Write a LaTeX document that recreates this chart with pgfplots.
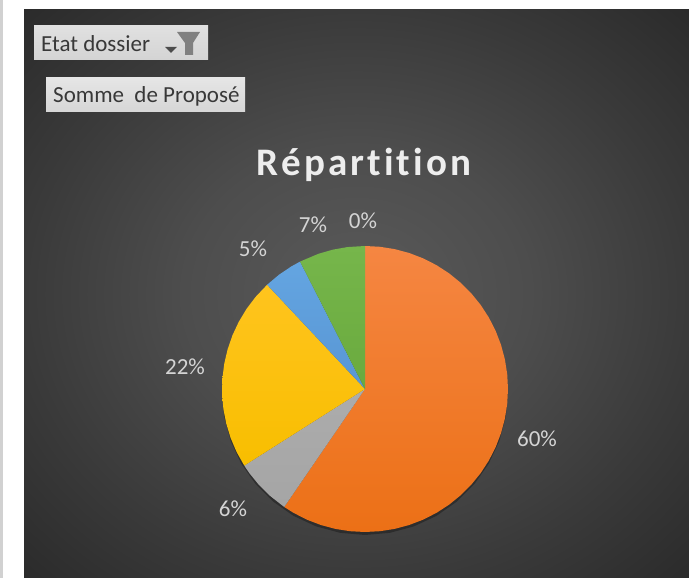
\documentclass[border=0pt]{standalone}
\usepackage{fontspec}
\setmainfont{Carlito}
\usepackage{pgfplots}
\pgfplotsset{compat=1.18}
\usepgfplotslibrary{polar}
\definecolor{lab}{HTML}{D4D4D4}
\definecolor{bg0}{HTML}{5A5A5A}
\definecolor{bg1}{HTML}{4D4D4D}
\definecolor{bg2}{HTML}{3A3A3A}
\definecolor{bg3}{HTML}{2A2A2A}
\pgfdeclareradialshading{vign}{\pgfpoint{0bp}{0bp}}{%
  color(0bp)=(bg0);color(13bp)=(bg1);color(25bp)=(bg2);color(36bp)=(bg3);color(100bp)=(bg3)}
\begin{document}
\begin{tikzpicture}[x=1pt,y=1pt]
\fill[white] (0,0) rectangle (689,578);
\fill[black!18] (0,0) rectangle (3,578);
\path[shading=vign] (24,0) rectangle (689,568);
% filter buttons
\shade[top color=black!12,bottom color=black!17] (34,518) rectangle (208,552);
\shade[top color=black!10,bottom color=black!16] (46,466) rectangle (245,500);
\node[anchor=west,inner sep=0pt,text=black!78,font=\fontsize{23}{26}\selectfont] at (41,534) {Etat dossier};
\node[anchor=west,inner sep=0pt,text=black!78,font=\fontsize{23}{26}\selectfont] at (53,482) {Somme\ \ de Proposé};
\fill[black!70] (165,531) -- (177,531) -- (171,525) -- cycle;
\fill[black!50] (177,546) -- (200,546) -- (193,535) -- (193,523) -- (185,523) -- (185,535) -- cycle;
% title and labels
\node[text=white!93!black,font=\fontsize{39}{44}\selectfont\bfseries\addfontfeature{LetterSpace=8,RawFeature=-liga}] at (364,413) {Répartition};
\begin{scope}[every node/.style={text=lab,font=\fontsize{23}{26}\selectfont,inner sep=0pt}]
\node at (537,139) {60\%};
\node at (233,69) {6\%};
\node at (185,211) {22\%};
\node at (253,329) {5\%};
\node at (313,353) {7\%};
\node at (363,357) {0\%};
\end{scope}
\begin{polaraxis}[
  at={(365pt,189pt)},anchor=center,
  scale only axis,width=286pt,height=286pt,
  hide axis,clip=false,
  xmin=0,xmax=360,ymin=0,ymax=1]
% soft shadow under the pie
\addplot[fill=black,draw=none,opacity=0.3,yshift=-3pt] coordinates {
 (0,1)(10,1)(20,1)(30,1)(40,1)(50,1)(60,1)(70,1)(80,1)(90,1)(100,1)(110,1)(120,1)(130,1)(140,1)(150,1)(160,1)(170,1)(180,1)(190,1)(200,1)(210,1)(220,1)(230,1)(240,1)(250,1)(260,1)(270,1)(280,1)(290,1)(300,1)(310,1)(320,1)(330,1)(340,1)(350,1)};
% 60 %
\addplot[draw=none,top color={rgb,255:red,245;green,134;blue,66},bottom color={rgb,255:red,236;green,112;blue,22}] coordinates {
 (0,0)(90,1)(84,1)(78,1)(72,1)(66,1)(60,1)(54,1)(48,1)(42,1)(36,1)(30,1)(24,1)(18,1)(12,1)(6,1)(0,1)(354,1)(348,1)(342,1)(336,1)(330,1)(324,1)(318,1)(312,1)(306,1)(300,1)(294,1)(288,1)(282,1)(276,1)(270,1)(264,1)(258,1)(252,1)(246,1)(240,1)(235.6,1)};
% 6 %
\addplot[draw=none,top color={rgb,255:red,172;green,172;blue,172},bottom color={rgb,255:red,165;green,165;blue,165}] coordinates {
 (0,0)(235.6,1)(228,1)(222,1)(216,1)(212.4,1)};
% 22 %
\addplot[draw=none,top color={rgb,255:red,255;green,196;blue,30},bottom color={rgb,255:red,248;green,190;blue,0}] coordinates {
 (0,0)(212.4,1)(206,1)(200,1)(194,1)(188,1)(182,1)(176,1)(170,1)(164,1)(158,1)(152,1)(146,1)(140,1)(133.2,1)};
% 5 %
\addplot[draw=none,top color={rgb,255:red,100;green,165;blue,225},bottom color={rgb,255:red,88;green,150;blue,212}] coordinates {
 (0,0)(133.2,1)(127,1)(121,1)(117,1)};
% 7 %
\addplot[draw=none,top color={rgb,255:red,118;green,182;blue,75},bottom color={rgb,255:red,106;green,170;blue,62}] coordinates {
 (0,0)(117,1)(109,1)(103,1)(97,1)(90,1)};
\end{polaraxis}
\end{tikzpicture}
\end{document}
